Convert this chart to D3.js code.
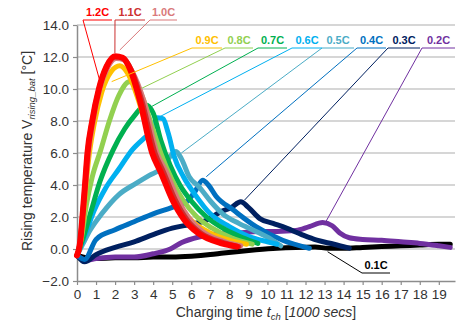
<!DOCTYPE html>
<html>
<head>
<meta charset="utf-8">
<script src="https://cdn.jsdelivr.net/npm/d3@7"></script>
<style>
  body { margin: 0; background: #fff; }
  text { font-family: "Liberation Sans", Arial, sans-serif; }
</style>
</head>
<body>
<div id="chart"></div>
<script>
// charge rates, lowest first so 1.2C ends up on top
const rates = ["0.1C", "0.2C", "0.3C", "0.4C", "0.5C", "0.6C", "0.7C", "0.8C", "0.9C", "1.0C", "1.1C", "1.2C"];
const colors = ["#000000", "#7030a0", "#002060", "#0070c0", "#4bacc6", "#00b0f0", "#00b050", "#92d050", "#ffc000", "#d9797b", "#cc3030", "#ff0000"];

// [time (1000 s), rising temperature (°C)]
const c01 = [[0,-0.4],[0.5,-0.55],[1,-0.6],[2,-0.55],[3,-0.55],[4,-0.5],[5,-0.5],[6,-0.45],[7,-0.35],[7.7,-0.25],[8.5,-0.15],[9.4,-0.05],[10.5,0.05],[11.5,0.1],[12.5,0.12],[13.2,0.05],[14,0.05],[15,0.1],[16,0.15],[17,0.2],[18,0.25],[19,0.3],[19.6,0.3]];
const c02 = [[0,-0.4],[0.5,-0.7],[1,-0.6],[2,-0.5],[3,-0.5],[4,-0.3],[4.9,0],[5.5,0.4],[6.4,0.75],[7.5,0.95],[8.5,1.0],[9.5,1.1],[10.5,1.1],[11.5,1.15],[12.2,1.4],[12.9,1.65],[13.4,1.45],[13.8,1.0],[14.3,0.7],[15,0.6],[16,0.55],[17,0.45],[18,0.35],[19,0.2],[19.6,0.1]];
const c03 = [[0,-0.4],[0.4,-0.8],[1,-0.35],[2,0.1],[3,0.45],[4,0.9],[5,1.3],[6,1.55],[6.8,1.8],[7.5,2.3],[8.1,2.6],[8.6,2.95],[9.0,2.6],[9.6,1.9],[10.3,1.6],[11,1.3],[11.8,0.9],[12.6,0.55],[13.5,0.3],[14.3,0.05]];
const c04 = [[0,-0.4],[0.4,-0.65],[1,0.6],[2,1.2],[3,1.7],[4,2.2],[5,2.6],[5.8,3.0],[6.2,3.6],[6.6,4.3],[6.9,4.0],[7.3,3.3],[8.2,2.45],[9.4,1.4],[10.8,0.55],[12.2,0.05]];
const c05 = [[0,-0.4],[0.3,0.3],[0.7,1.2],[1.3,2.2],[2.2,3.4],[3.1,4.1],[3.8,4.6],[4.4,5.0],[4.9,5.8],[5.2,6.1],[5.5,5.6],[5.9,4.5],[6.4,3.9],[7.0,3.0],[7.65,2.2],[8.5,1.6],[9.4,1.1],[10.2,0.6],[10.7,0.2]];
const c06 = [[0,-0.4],[0.4,0.8],[0.9,2.4],[1.5,3.8],[2.2,5.0],[2.9,6.2],[3.5,6.9],[3.9,7.3],[4.2,8.2],[4.5,8.15],[4.8,7.2],[5.1,5.8],[5.6,4.5],[6.2,3.4],[7.0,2.2],[8.0,1.4],[9.0,0.8],[10.0,0.45],[10.5,0.3]];
const c07 = [[0,-0.4],[0.3,0.6],[0.7,2.2],[1.2,4.2],[1.9,6.2],[2.5,7.5],[3.0,8.3],[3.6,9.0],[4.0,8.5],[4.4,6.8],[4.9,5.2],[5.4,4.0],[6.0,3.0],[6.8,2.0],[7.8,1.2],[8.7,0.7],[9.5,0.35]];
const c08 = [[0,-0.4],[0.25,0.8],[0.5,2.8],[0.8,4.5],[1.25,6.2],[1.7,8.0],[2.2,9.6],[2.75,10.45],[3.2,10.1],[3.5,9.3],[3.9,7.8],[4.4,6.0],[5.0,4.3],[5.6,3.0],[6.3,2.0],[7.1,1.3],[8.1,0.7],[9.2,0.3]];
const c09 = [[0,-0.4],[0.2,0.5],[0.4,3],[0.6,5.5],[0.9,7.8],[1.3,9.8],[1.8,11.1],[2.25,11.45],[2.7,10.9],[3.2,9.4],[3.7,7.4],[4.2,5.5],[4.7,4.0],[5.3,2.8],[6.0,1.8],[7.0,1.0],[8.0,0.55],[8.9,0.3]];
const c10 = [[0,-0.4],[0.15,0.3],[0.3,2.2],[0.45,4],[0.6,6],[0.85,8],[1.2,10],[1.6,11.3],[2.05,11.9],[2.5,11.8],[2.9,11.1],[3.5,9.3],[4.2,6.0],[4.7,4.8],[5.3,3.1],[5.9,1.9],[6.6,1.1],[7.8,0.45],[8.6,0.2]];
const c11 = [[0,-0.4],[0.15,0.3],[0.3,2.2],[0.42,4],[0.55,6],[0.8,8],[1.15,10],[1.55,11.4],[2.0,12.0],[2.45,11.9],[2.85,11.2],[3.4,9.3],[4.1,6.0],[4.55,4.8],[5.15,3.1],[5.8,1.8],[6.5,1.0],[7.7,0.4],[8.5,0.15]];
const c12 = [[0,-0.4],[0.15,0.3],[0.3,2.2],[0.42,4],[0.55,6],[0.8,8],[1.15,10],[1.55,11.4],[2.0,12.05],[2.4,11.95],[2.8,11.2],[3.3,9.3],[3.95,6.0],[4.4,4.8],[5.0,3.1],[5.65,1.8],[6.35,1.0],[7.6,0.35],[8.4,0.15]];
const seriesData = [c01, c02, c03, c04, c05, c06, c07, c08, c09, c10, c11, c12];

// where each label's leader line touches its curve [time, temp]
const leaderTargets = [[13.16,-0.17],[13.07,1.71],[8.8,3.06],[6.79,4.52],[5.48,6.0],[4.35,8.27],[3.91,8.9],[3.39,10.04],[1.82,10.46],[2.25,12.44],[1.99,12.25],[1.2,10.5]];

const xTicks = d3.range(0, 20);
const yTicks = [-2, 0, 2, 4, 6, 8, 10, 12, 14];

const width = 456, height = 325;
const margin = {top: 25, right: 1, bottom: 44, left: 77};

const svg = d3.select("#chart").append("svg")
    .attr("width", width)
    .attr("height", height);

const x = d3.scaleLinear().domain([0, 19.85]).range([margin.left, width - margin.right]);
const y = d3.scaleLinear().domain([-2, 14]).range([height - margin.bottom, margin.top]);

// horizontal gridlines
svg.append("g")
    .selectAll("line")
    .data(yTicks.filter(d => d > -2))
    .enter().append("line")
    .attr("x1", x(0)).attr("x2", x.range()[1])
    .attr("y1", d => y(d)).attr("y2", d => y(d))
    .attr("stroke", "#c8c8c8")
    .attr("stroke-width", 1.5);

// axes
const xAxis = svg.append("g")
    .attr("transform", "translate(0," + y(-2) + ")")
    .call(d3.axisBottom(x).tickValues(xTicks).tickFormat(d3.format("d")).tickSize(4).tickSizeOuter(0));
const yAxis = svg.append("g")
    .attr("transform", "translate(" + x(0) + ",0)")
    .call(d3.axisLeft(y).tickValues(yTicks).tickFormat(d3.format(".1f")).tickSize(4).tickSizeOuter(0));

[xAxis, yAxis].forEach(function(a) {
    a.select(".domain").attr("stroke", "#8c8c8c").attr("stroke-width", 1.5);
    a.selectAll(".tick line").attr("stroke", "#8c8c8c").attr("stroke-width", 1.2);
    a.selectAll(".tick text")
        .attr("fill", "#333")
        .style("font-size", "13.5px")
        .style("font-family", "'Liberation Sans', Arial, sans-serif");
});
xAxis.selectAll(".tick text").attr("dy", "0.85em");
yAxis.selectAll(".tick text").attr("x", -8);

// curves
const line = d3.line()
    .curve(d3.curveMonotoneX)
    .x(d => x(d[0]))
    .y(d => y(d[1]));

svg.append("g")
    .selectAll("path")
    .data(seriesData)
    .enter().append("path")
    .attr("d", line)
    .attr("fill", "none")
    .attr("stroke", (d, i) => colors[i])
    .attr("stroke-width", (d, i) => i === 11 ? 6 : 5)
    .attr("stroke-linejoin", "round")
    .attr("stroke-linecap", "round");

// labels with leader lines: [underline left, underline right, underline y]
const labelSpots = [[362,390,273],[422,455,48],[388,420,48],[357,386,48],[322,354,48],[292,322,48],[258,287,48],[225,253,48],[192,222,48],[150,177,20],[115,145,20],[83,112,20]];

const labels = svg.append("g")
    .selectAll("g")
    .data(rates)
    .enter().append("g");

labels.append("polyline")
    .attr("points", (d, i) => {
        const s = labelSpots[i], t = leaderTargets[i];
        return [[x(t[0]), y(t[1])], [s[0], s[2]], [s[1], s[2]]].map(p => p.join(",")).join(" ");
    })
    .attr("fill", "none")
    .attr("stroke", (d, i) => colors[i])
    .attr("stroke-width", 1);

labels.append("text")
    .attr("x", (d, i) => (labelSpots[i][0] + labelSpots[i][1]) / 2)
    .attr("y", (d, i) => labelSpots[i][2] - 4.5)
    .attr("text-anchor", "middle")
    .attr("fill", (d, i) => colors[i])
    .style("font-size", "11px")
    .style("font-weight", "bold")
    .text(d => d);

// axis titles
const yTitle = svg.append("text")
    .attr("transform", "translate(32,151) rotate(-90)")
    .attr("text-anchor", "middle")
    .attr("fill", "#333")
    .style("font-size", "14px");
yTitle.append("tspan").text("Rising temperature V");
yTitle.append("tspan").attr("dy", 3).style("font-size", "9.5px").style("font-style", "italic").text("rising_bat");
yTitle.append("tspan").attr("dy", -3).text(" [°C]");

const xTitle = svg.append("text")
    .attr("x", 266)
    .attr("y", 317)
    .attr("text-anchor", "middle")
    .attr("fill", "#333")
    .style("font-size", "14px");
xTitle.append("tspan").text("Charging time ");
xTitle.append("tspan").style("font-style", "italic").text("t");
xTitle.append("tspan").attr("dy", 3).style("font-size", "9.5px").style("font-style", "italic").text("ch");
xTitle.append("tspan").attr("dy", -3).text(" [");
xTitle.append("tspan").style("font-style", "italic").text("1000 secs");
xTitle.append("tspan").text("]");
</script>
</body>
</html>
